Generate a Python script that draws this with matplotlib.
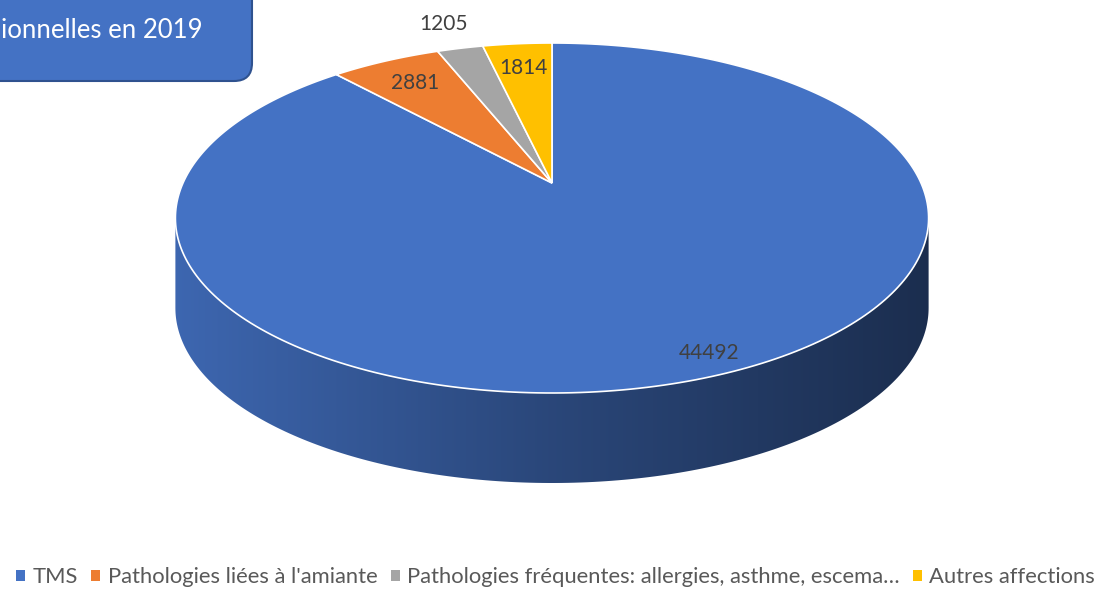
import numpy as np
import matplotlib.pyplot as plt
from matplotlib.patches import Polygon, FancyBboxPatch, Patch
from matplotlib.colors import LinearSegmentedColormap, to_rgb

# data
categories = ['TMS', "Pathologies liées à l'amiante",
              'Pathologies fréquentes: allergies, asthme, escema…', 'Autres affections']
values = [44492, 2881, 1205, 1814]
colors = ['#4472C4', '#ED7D31', '#A5A5A5', '#FFC000']
label_radius = [0.9, 0.8, 1.22, 0.8]
title_text = 'ionnelles en 2019'

plt.rcParams['font.family'] = ['Lato', 'DejaVu Sans']

# page geometry (pixels) and a simple perspective for the tilted pie
W, H = 1105, 589
cx, cy = 552, 183
R, S, K = 369, 168, 0.2
depth = 90


def proj(theta, r=1.0, dz=0.0):
    u = r * np.sin(theta)
    v = r * np.cos(theta)
    w = 1 + K * v
    return cx + R * u / w, cy - S * v / w + dz


fig = plt.figure(figsize=(11.05, 5.89), dpi=100)
ax = fig.add_axes([0, 0, 1, 1])
ax.set_xlim(0, W)
ax.set_ylim(H, 0)
ax.axis('off')

fracs = np.array(values) / sum(values)
bounds = np.concatenate([[0], np.cumsum(fracs)]) * 2 * np.pi

# visible side: between the left and right silhouette points (front half)
th_r = np.arccos(-K)
th_l = 2 * np.pi - th_r
xl = proj(th_l)[0]
xr = proj(th_r)[0]
for i in range(len(values)):
    a0 = max(bounds[i], th_r)
    a1 = min(bounds[i + 1], th_l)
    if a1 <= a0:
        continue
    t = np.linspace(a0, a1, 200)
    xt, yt = proj(t)
    xb, yb = proj(t[::-1], dz=depth)
    pts = np.column_stack([np.concatenate([xt, xb]), np.concatenate([yt, yb])])
    side = Polygon(pts, closed=True, facecolor='none', edgecolor='none')
    ax.add_patch(side)
    base = np.array(to_rgb(colors[i]))
    cmap = LinearSegmentedColormap.from_list('side', [base * 0.40, base * 0.62, base * 0.9])
    grad = np.linspace(1, 0, 256).reshape(1, -1)
    im = ax.imshow(grad, cmap=cmap, aspect='auto',
                   extent=[xl - 2, xr + 2, H, cy], zorder=1)
    im.set_clip_path(side)

# top face
for i in range(len(values)):
    t = np.linspace(bounds[i], bounds[i + 1], 300)
    x, y = proj(t)
    pts = np.column_stack([np.concatenate([[cx], x]), np.concatenate([[cy], y])])
    ax.add_patch(Polygon(pts, closed=True, facecolor=colors[i], edgecolor='white',
                         lw=1.2, zorder=2))

# data labels
for i in range(len(values)):
    mid = (bounds[i] + bounds[i + 1]) / 2
    x, y = proj(mid, r=label_radius[i])
    if i == 0:
        x += 14
    ax.text(x, y, str(values[i]), ha='center', va='center', fontsize=15,
            color='#404040', zorder=3)

# title box (cut off at the left)
box = FancyBboxPatch((-40, -40), 292, 121, boxstyle='round,pad=0,rounding_size=18',
                     facecolor='#4472C4', edgecolor='#2F528F', lw=1.5, zorder=4)
ax.add_patch(box)
ax.text(1, 31, title_text, ha='left', va='center', fontsize=18.5, color='white', zorder=5)

# legend
handles = [Patch(facecolor=c, label=l) for c, l in zip(colors, categories)]
fig.legend(handles=handles, loc='lower center', bbox_to_anchor=(0.503, -0.03), ncol=4,
           frameon=False, handlelength=0.4, handleheight=0.4, handletextpad=0.35,
           columnspacing=0.6, fontsize=15.8, labelcolor='#595959')

fig.savefig('out.png', dpi=100)
